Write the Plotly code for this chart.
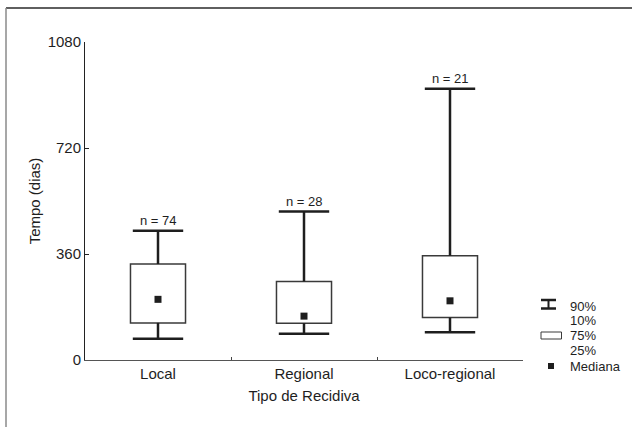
import plotly.graph_objects as go

# ---- data ----
categories = ["Local", "Regional", "Loco-regional"]
p10 = [72, 89, 94]
q1 = [126, 125, 144]
median = [206, 149, 201]
q3 = [326, 267, 354]
p90 = [439, 504, 921]
n_labels = ["n = 74", "n = 28", "n = 21"]
y_ticks = [0, 360, 720, 1080]
legend_labels = ["90%", "10%", "75%", "25%", "Mediana"]

W, H = 632, 427
L, R, T, B = 85, 109, 42, 67
PW, PH = W - L - R, H - T - B
FONT = "Liberation Sans, Arial, sans-serif"
INK = "#1e1e1e"


def px(x):
    return (x - L) / PW


def py(y):
    return (H - B - y) / PH


fig = go.Figure()

# boxes (25%-75%)
fig.add_trace(go.Bar(
    x=categories,
    y=[b - a for a, b in zip(q1, q3)],
    base=q1,
    width=0.377,
    marker=dict(color="white", line=dict(color="#3a3a3a", width=1.5)),
    hoverinfo="skip",
))

# whisker stems
wx, wy = [], []
for c, a, b, lo, hi in zip(categories, q1, q3, p10, p90):
    wx += [c, c, c, c, c, c]
    wy += [b, hi, None, lo, a, None]
fig.add_trace(go.Scatter(
    x=wx, y=wy, mode="lines",
    line=dict(color=INK, width=2.5),
    connectgaps=False, hoverinfo="skip",
))

# whisker caps (10% / 90%)
fig.add_trace(go.Scatter(
    x=categories + categories,
    y=p90 + p10,
    mode="markers",
    marker=dict(symbol="line-ew", size=36, line=dict(color=INK, width=2.5)),
    hoverinfo="skip",
))

# medians
fig.add_trace(go.Scatter(
    x=categories, y=median, mode="markers",
    marker=dict(symbol="square", size=7, color=INK, line=dict(width=0)),
    hoverinfo="skip",
))

annotations = []
for c, hi, t in zip(categories, p90, n_labels):
    annotations.append(dict(
        x=c, y=hi, xref="x", yref="y", text=t, showarrow=False,
        yanchor="bottom", yshift=1, font=dict(size=13, color=INK, family=FONT),
    ))

# legend texts
leg_y = [306.5, 320, 335.5, 350.5, 366]
for t, yy in zip(legend_labels, leg_y):
    annotations.append(dict(
        x=px(568), y=py(yy), xref="paper", yref="paper", text=t,
        showarrow=False, xanchor="left", yanchor="middle",
        font=dict(size=13, color=INK, family=FONT),
    ))

shapes = [
    # outer frame (top and left)
    dict(type="line", xref="paper", yref="paper", x0=px(6), x1=px(632), y0=py(8), y1=py(8),
         line=dict(color="#2a2a2a", width=1.5)),
    dict(type="line", xref="paper", yref="paper", x0=px(6), x1=px(6), y0=py(8), y1=py(427),
         line=dict(color="#8a8a8a", width=1.5)),
    # legend icon: whisker
    dict(type="line", xref="paper", yref="paper", x0=px(541), x1=px(556), y0=py(300), y1=py(300),
         line=dict(color=INK, width=2.5)),
    dict(type="line", xref="paper", yref="paper", x0=px(548.5), x1=px(548.5), y0=py(300), y1=py(308.5),
         line=dict(color=INK, width=2)),
    dict(type="line", xref="paper", yref="paper", x0=px(541), x1=px(556), y0=py(308.5), y1=py(308.5),
         line=dict(color=INK, width=2.5)),
    # legend icon: box
    dict(type="rect", xref="paper", yref="paper", x0=px(541), x1=px(561.5), y0=py(339), y1=py(332),
         line=dict(color="#3a3a3a", width=1), fillcolor="white"),
    # legend icon: median
    dict(type="rect", xref="paper", yref="paper", x0=px(548), x1=px(554), y0=py(369), y1=py(363),
         line=dict(width=0), fillcolor=INK),
]

fig.update_layout(
    width=W, height=H,
    margin=dict(l=L, r=R, t=T, b=B, pad=0),
    paper_bgcolor="white", plot_bgcolor="white",
    showlegend=False, hovermode=False,
    font=dict(family=FONT, size=15, color=INK),
    annotations=annotations, shapes=shapes,
    xaxis=dict(
        type="category", range=[-0.5, 2.5],
        tickson="boundaries", ticks="inside", ticklen=3, tickcolor="#444",
        showline=True, linecolor="#555", linewidth=1,
        showgrid=False, zeroline=False,
        tickfont=dict(size=15, color=INK),
        title=dict(text="Tipo de Recidiva", standoff=9, font=dict(size=15, color=INK)),
    ),
    yaxis=dict(
        range=[0, 1080], tickvals=y_ticks, ticktext=[str(v) for v in y_ticks],
        ticks="inside", ticklen=4, tickcolor="#222",
        showline=True, linecolor="#222", linewidth=1,
        showgrid=False, zeroline=False,
        tickfont=dict(size=15, color=INK),
        title=dict(text="Tempo (dias)", standoff=3, font=dict(size=15, color=INK)),
    ),
)

fig.write_html(
    "out.html",
    config={"displayModeBar": False, "staticPlot": True},
    post_script="document.body.style.margin='0';document.body.style.overflow='hidden';",
)
